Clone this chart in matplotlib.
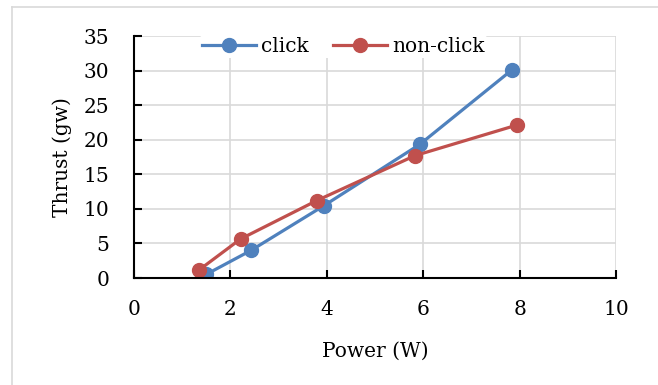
import matplotlib
matplotlib.use("Agg")
import matplotlib.pyplot as plt
from matplotlib.lines import Line2D

plt.rcParams['font.family'] = ['DejaVu Serif']

# data
click_x = [1.50, 2.43, 3.94, 5.93, 7.84]
click_y = [0.53, 4.0, 10.46, 19.33, 30.09]
nonclick_x = [1.34, 2.21, 3.79, 5.83, 7.95]
nonclick_y = [1.11, 5.64, 11.19, 17.7, 22.13]

blue = '#4F81BD'
red = '#C0504D'

fig = plt.figure(figsize=(6.58, 3.85), dpi=100)
ax = fig.add_axes([134/658, 1 - 278/385, 482/658, 242/385])

ax.plot(click_x, click_y, color=blue, lw=2.3, marker='o', ms=10, label='click', zorder=3)
ax.plot(nonclick_x, nonclick_y, color=red, lw=2.3, marker='o', ms=10, label='non-click', zorder=3)

ax.set_xlim(0, 10)
ax.set_ylim(0, 35)
ax.set_xticks(range(0, 11, 2))
ax.set_yticks(range(0, 36, 5))
ax.grid(True, color='#d9d9d9', lw=1.2)
ax.set_axisbelow(True)
for s in ['top', 'right']:
    ax.spines[s].set_visible(False)
for s in ['left', 'bottom']:
    ax.spines[s].set_linewidth(1.5)
    ax.spines[s].set_zorder(4)
ax.tick_params(direction='in', length=6, width=1.5, labelsize=14.5, pad=18)
ax.tick_params(axis='x', pad=16)

ax.set_xlabel('Power (W)', fontsize=14.5, labelpad=16)
ax.set_ylabel('Thrust (gw)', fontsize=14.5, labelpad=8)

leg = ax.legend(loc='upper center', bbox_to_anchor=(0.434, 1.045), ncol=2, frameon=True,
                fontsize=14.5, handlelength=2.7, columnspacing=1.2, handletextpad=0.25,
                borderpad=0.1)
leg.get_frame().set_edgecolor('none')
leg.get_frame().set_facecolor('white')
leg.get_frame().set_alpha(1)

# chart area border (partly cut off)
fig.add_artist(Line2D([12/658, 1], [1 - 7/385, 1 - 7/385], color='#d9d9d9', lw=1.2))
fig.add_artist(Line2D([12/658, 12/658], [0, 1 - 7/385], color='#d9d9d9', lw=1.2))

fig.savefig('out.png', dpi=100)
